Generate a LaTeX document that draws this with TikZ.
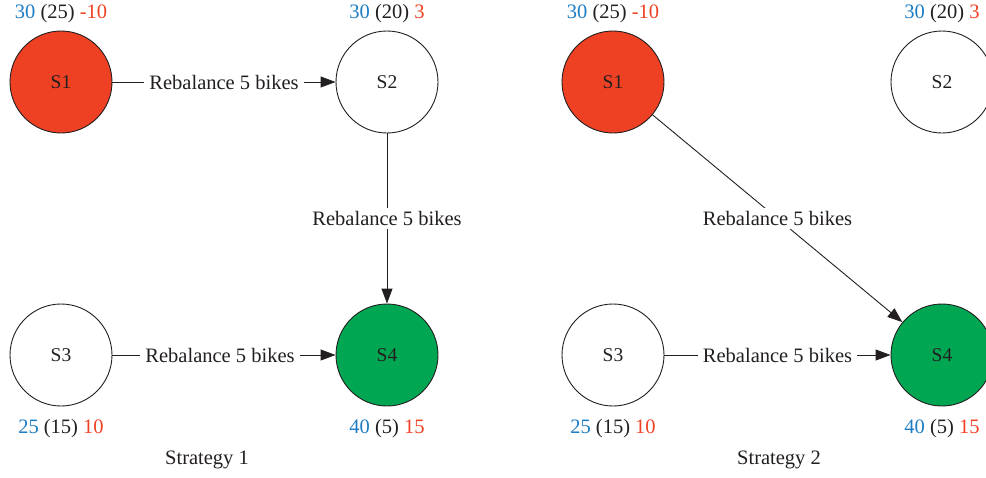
\documentclass[tikz,border=0pt]{standalone}
\usepackage{fontspec}
\setmainfont{Liberation Serif}
\usetikzlibrary{arrows.meta}
\definecolor{ink}{HTML}{231F20}
\definecolor{hotred}{HTML}{EE4123}
\definecolor{okgreen}{HTML}{00A651}
\definecolor{numblue}{HTML}{1C7DC4}
\definecolor{numred}{HTML}{EF4123}
\tikzset{
  station/.style={circle, draw=ink, line width=0.9pt, minimum size=102pt, inner sep=0pt,
    font=\fontsize{19.5}{22}\selectfont, text=ink},
  flow/.style={draw=ink, line width=0.9pt, -{Triangle[length=15pt,width=11pt]}},
  flowlabel/.style={fill=white, inner xsep=5pt, inner ysep=3pt, font=\fontsize{20.5}{23}\selectfont, text=ink},
  stats/.style={font=\fontsize{20.5}{23}\selectfont, text=ink},
  caption/.style={font=\fontsize{20.5}{23}\selectfont, text=ink}
}
\newcommand{\stat}[3]{\textcolor{numblue}{#1} (#2) \textcolor{numred}{#3}}
\begin{document}
\begin{tikzpicture}[x=1pt,y=-1pt]
\useasboundingbox (0,0) rectangle (986,477);

% Strategy 1
\node[station, fill=hotred] (a1) at (61,82) {S1};
\node[station] (a2) at (387,82) {S2};
\node[station] (a3) at (61,355) {S3};
\node[station, fill=okgreen] (a4) at (387,355) {S4};
\node[stats] (ta1) at (61,14) {\stat{30}{25}{-10}};
\node[stats] (ta2) at (387,14) {\stat{30}{20}{3}};
\node[stats] (ta3) at (61,429) {\stat{25}{15}{10}};
\node[stats] (ta4) at (387,429) {\stat{40}{5}{15}};
\draw[flow] (a1) -- node[flowlabel] {Rebalance 5 bikes} (a2);
\draw[flow] (a2) -- node[flowlabel] {Rebalance 5 bikes} (a4);
\draw[flow] (a3) -- node[flowlabel, xshift=-4pt] {Rebalance 5 bikes} (a4);
\node[caption] (cap1) at (207,460) {Strategy 1};

% Strategy 2
\node[station, fill=hotred] (b1) at (613,82) {S1};
\node[station] (b2) at (942,82) {S2};
\node[station] (b3) at (613,355) {S3};
\node[station, fill=okgreen] (b4) at (942,355) {S4};
\node[stats] (tb1) at (613,14) {\stat{30}{25}{-10}};
\node[stats] (tb2) at (942,14) {\stat{30}{20}{3}};
\node[stats] (tb3) at (613,429) {\stat{25}{15}{10}};
\node[stats] (tb4) at (942,429) {\stat{40}{5}{15}};
\draw[flow] (b1) -- node[flowlabel] {Rebalance 5 bikes} (b4);
\draw[flow] (b3) -- node[flowlabel] {Rebalance 5 bikes} (b4);
\node[caption] (cap2) at (779,460) {Strategy 2};
\end{tikzpicture}
\end{document}
